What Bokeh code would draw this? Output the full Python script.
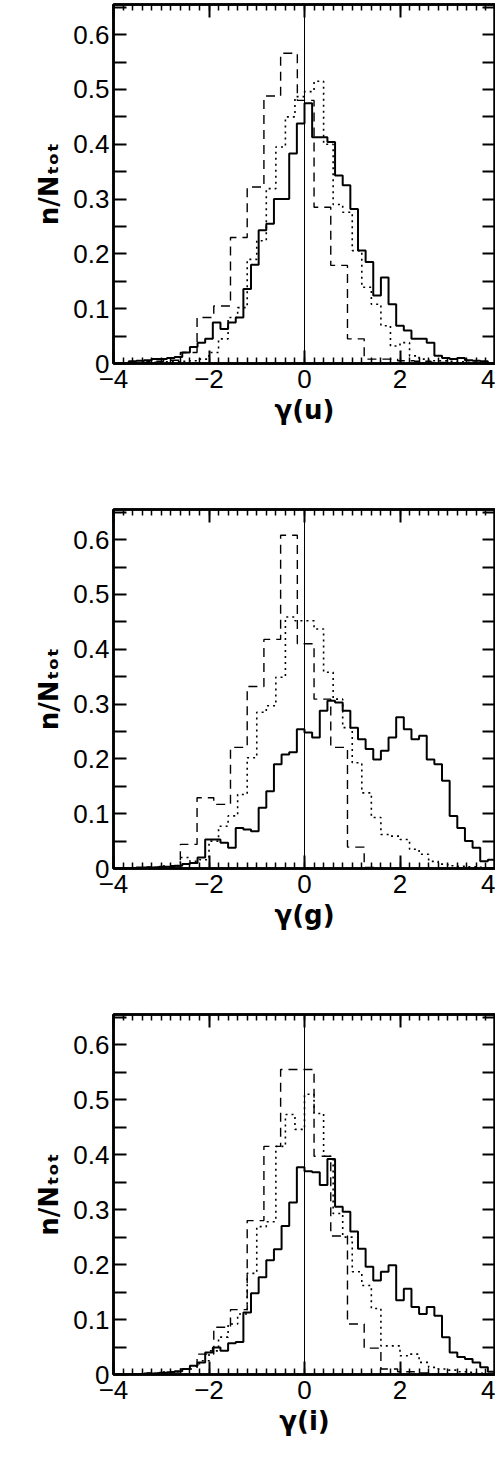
import numpy as np
from bokeh.embed import file_html
from bokeh.layouts import column
from bokeh.models import FixedTicker, LinearAxis, Range1d, Span
from bokeh.plotting import figure
from bokeh.resources import INLINE

# bin edges: solid 0.16 wide, dotted 0.2 wide, dashed 0.35 wide
SOLID_EDGES = [round(-4 + 0.16 * k, 3) for k in range(51)]
DOTTED_EDGES = [round(-4 + 0.2 * k, 3) for k in range(41)]
DASHED_EDGES = [round(-4 + 0.35 * k, 3) for k in range(24)]

u_solid = [0, 0, 0.004, 0.005, 0.006, 0.008, 0.008, 0.01, 0.012, 0.02, 0.03, 0.038,
           0.045, 0.075, 0.063, 0.075, 0.084, 0.136, 0.18, 0.243, 0.255, 0.30, 0.30,
           0.383, 0.438,
           0.475, 0.413, 0.413, 0.404, 0.343, 0.325, 0.282, 0.206, 0.185, 0.124, 0.157,
           0.108, 0.069, 0.06, 0.045, 0.045, 0.038, 0.014, 0.01, 0.008, 0.01, 0.006,
           0.005, 0.004, 0.0]
u_dotted = [0, 0, 0.001, 0.002, 0.002, 0.003, 0.003, 0.004, 0.005, 0.008, 0.02, 0.045,
            0.084, 0.102, 0.19, 0.224, 0.319, 0.395, 0.45, 0.487,
            0.496, 0.515, 0.40, 0.29, 0.276, 0.206, 0.139, 0.108, 0.069, 0.032, 0.038,
            0.014, 0.008, 0.005, 0.005, 0.004, 0.003, 0.002, 0.001, 0]
u_dashed = [0, 0.002, 0.004, 0.006, 0.02, 0.084, 0.105, 0.23, 0.322, 0.488, 0.566,
            0.48, 0.285, 0.179, 0.045, 0.008, 0.008, 0.005, 0.004, 0.002, 0, 0, 0]

g_solid = [0, 0.001, 0.001, 0.002, 0.002, 0.002, 0.003, 0.003, 0.005, 0.008, 0.01, 0.02,
           0.053, 0.053, 0.047, 0.038, 0.074, 0.071, 0.068, 0.111, 0.141, 0.19, 0.208,
           0.212, 0.254,
           0.248, 0.239, 0.288, 0.306, 0.303, 0.288, 0.257, 0.236, 0.218, 0.199, 0.215,
           0.239, 0.276, 0.254, 0.236, 0.242, 0.199, 0.19, 0.16, 0.096, 0.074, 0.05,
           0.038, 0.013, 0.016]
g_dotted = [0, 0, 0.001, 0.001, 0.002, 0.003, 0.005, 0.02, 0.013, 0.016, 0.05, 0.077,
            0.096, 0.135, 0.202, 0.285, 0.297, 0.349, 0.459, 0.452,
            0.452, 0.437, 0.358, 0.309, 0.257, 0.193, 0.138, 0.093, 0.062, 0.059, 0.053,
            0.035, 0.026, 0.013, 0.008, 0.005, 0.004, 0.003, 0.002, 0.001]
g_dashed = [0, 0.001, 0.003, 0.005, 0.044, 0.129, 0.117, 0.221, 0.332, 0.418, 0.608,
            0.41, 0.309, 0.221, 0.039, 0.002, 0, 0, 0, 0, 0, 0, 0]

i_solid = [0, 0, 0.001, 0.001, 0.002, 0.002, 0.003, 0.004, 0.006, 0.01, 0.016, 0.022,
           0.04, 0.049, 0.043, 0.057, 0.059, 0.113, 0.148, 0.177, 0.208, 0.228, 0.27,
           0.313, 0.377,
           0.37, 0.368, 0.345, 0.392, 0.305, 0.296, 0.26, 0.229, 0.196, 0.171, 0.187,
           0.199, 0.135, 0.156, 0.123, 0.11, 0.123, 0.107, 0.068, 0.04, 0.032, 0.028,
           0.022, 0.013, 0.005]
i_dotted = [0, 0, 0.001, 0.001, 0.002, 0.003, 0.005, 0.01, 0.015, 0.025, 0.043, 0.068,
            0.092, 0.11, 0.184, 0.269, 0.278, 0.415, 0.473, 0.446,
            0.51, 0.475, 0.397, 0.293, 0.25, 0.187, 0.162, 0.12, 0.052, 0.052, 0.034,
            0.037, 0.022, 0.013, 0.01, 0.008, 0.005, 0.004, 0.002, 0.001]
i_dashed = [0, 0.001, 0.003, 0.005, 0.01, 0.037, 0.086, 0.118, 0.28, 0.415, 0.555,
            0.555, 0.397, 0.252, 0.092, 0.048, 0.01, 0.005, 0.003, 0, 0, 0, 0]

X_LABELS = ["γ(u)", "γ(g)", "γ(i)"]
Y_TICKS = [round(0.05 * k, 2) for k in range(14)]
Y_LABELS = {t: ("0" if t == 0 else (f"{t:.1f}" if round(t * 10) == t * 10 else "")) for t in Y_TICKS}
X_TICKS = [-4, -2, 0, 2, 4]
X_MINOR = [round(-4 + 0.2 * k, 2) for k in range(41)]

FONT = "Liberation Sans"


def stairs(edges, vals):
    return list(edges[:len(vals) + 1]), list(vals) + [vals[-1]]


def style_ticks(ax):
    ax.axis_line_width = 2.5
    ax.major_tick_in = 13
    ax.major_tick_out = 0
    ax.minor_tick_in = 6
    ax.minor_tick_out = 0
    ax.major_tick_line_width = 2
    ax.minor_tick_line_width = 1.5


def panel(solid, dotted, dashed, xlabel, height, bottom):
    p = figure(width=495, height=height, output_backend="svg", toolbar_location=None,
               x_range=Range1d(-4, 4), y_range=Range1d(0, 0.655),
               min_border_left=113, min_border_right=0, min_border_top=4,
               min_border_bottom=bottom)
    p.grid.visible = False
    p.outline_line_color = "black"
    p.outline_line_width = 2.5

    for e, v, dash, w in ((SOLID_EDGES, solid, "solid", 2),
                          (DOTTED_EDGES, dotted, "2 4", 1.6),
                          (DASHED_EDGES, dashed, "9 6", 1.4)):
        xs, ys = stairs(e, v)
        p.step(xs, ys, mode="after", line_color="black", line_width=w, line_dash=dash)
    p.add_layout(Span(location=0, dimension="height", line_color="black", line_width=1))

    for ax in p.xaxis:
        ax.ticker = FixedTicker(ticks=X_TICKS, minor_ticks=X_MINOR)
        ax.major_label_overrides = {t: (f"−{abs(t)}" if t < 0 else str(t)) for t in X_TICKS}
        ax.axis_label = xlabel
        ax.major_label_standoff = 6
        ax.axis_label_standoff = 4
    for ax in p.yaxis:
        ax.ticker = FixedTicker(ticks=Y_TICKS, minor_ticks=[])
        ax.major_label_overrides = Y_LABELS
        ax.axis_label = "n/Nₜₒₜ"
        ax.major_label_standoff = 4
        ax.axis_label_standoff = 6
    for ax in p.axis:
        style_ticks(ax)
        ax.major_label_text_font = FONT
        ax.major_label_text_font_size = "26px"
        ax.major_label_text_color = "black"
        ax.axis_label_text_font = "DejaVu Sans"
        ax.axis_label_text_font_style = "bold"
        ax.axis_label_text_font_size = "26px"
        ax.axis_label_text_color = "black"

    top = LinearAxis(ticker=FixedTicker(ticks=X_TICKS, minor_ticks=X_MINOR),
                     major_label_overrides={t: "" for t in X_TICKS})
    right = LinearAxis(ticker=FixedTicker(ticks=Y_TICKS, minor_ticks=[]),
                       major_label_overrides={t: "" for t in Y_TICKS})
    for ax in (top, right):
        style_ticks(ax)
        ax.major_label_standoff = 0
        ax.major_label_text_font_size = "2px"
    p.add_layout(top, "above")
    p.add_layout(right, "right")
    return p


p1 = panel(u_solid, u_dotted, u_dashed, X_LABELS[0], 505, 142)
p2 = panel(g_solid, g_dotted, g_dashed, X_LABELS[1], 505, 142)
p3 = panel(i_solid, i_dotted, i_dashed, X_LABELS[2], 444, 80)
p = column(p1, p2, p3, spacing=0)

open("out.html", "w").write(file_html(p, INLINE))
